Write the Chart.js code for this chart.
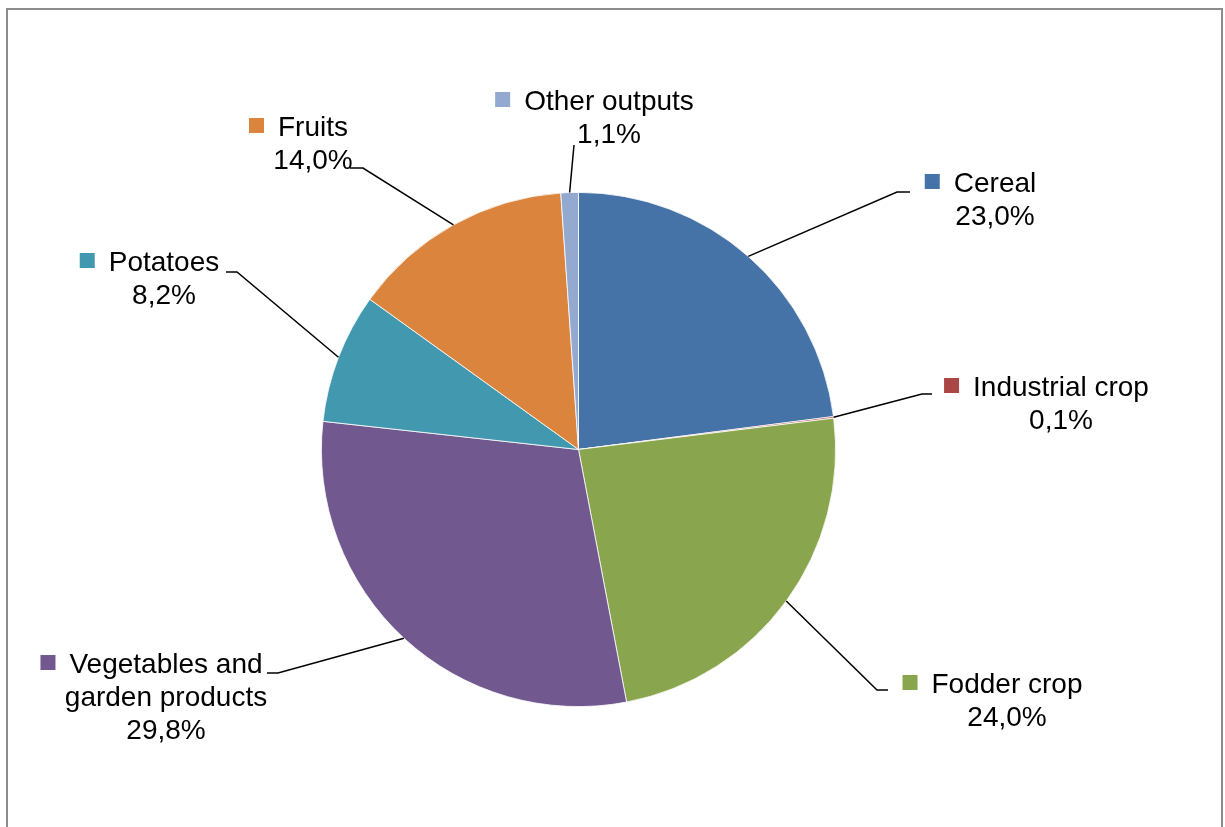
<!DOCTYPE html>
<html>
<head>
<meta charset="utf-8">
<script src="https://cdn.jsdelivr.net/npm/chart.js@4"></script>
<style>
  html, body { margin: 0; padding: 0; background: #fff; }
  canvas { display: block; }
</style>
</head>
<body>
<canvas id="c" width="1225" height="827"></canvas>
<script>
const categories = ["Cereal", "Industrial crop", "Fodder crop", "Vegetables and garden products", "Potatoes", "Fruits", "Other outputs"];
const shares = [23.0, 0.1, 24.0, 29.8, 8.2, 14.0, 1.1];
const colors = ["#4572A7", "#AA4643", "#89A54E", "#71588F", "#4198AF", "#DB843D", "#93A9CF"];

// label layout (text center x, first line middle y, leader elbow, horizontal end)
const labelLayout = [
  { cx: 995, y: 184, elbow: [897, 192], end: 910 },
  { cx: 1061, y: 388, elbow: [922, 394], end: 932 },
  { cx: 1007, y: 685, elbow: [877, 690], end: 888 },
  { cx: 166, y: 665, elbow: [278, 673], end: 267 },
  { cx: 164, y: 263, elbow: [237, 272], end: 226 },
  { cx: 313, y: 128, elbow: [363, 168], end: 350 },
  { cx: 609, y: 102, elbow: [574, 145], end: 574 }
];

const fmt = v => v.toFixed(1).replace('.', ',') + '%';

const framePlugin = {
  id: 'frame',
  beforeDraw(chart) {
    const ctx = chart.ctx;
    ctx.save();
    ctx.fillStyle = '#fff';
    ctx.fillRect(0, 0, chart.width, chart.height);
    ctx.strokeStyle = '#8c8c8c';
    ctx.lineWidth = 2;
    ctx.strokeRect(7, 9, 1215, 830);
    ctx.restore();
  }
};

const labelPlugin = {
  id: 'pieLabels',
  afterDatasetsDraw(chart) {
    const ctx = chart.ctx;
    const meta = chart.getDatasetMeta(0);
    const font = '28px "Liberation Sans", Arial, sans-serif';
    const lineH = 33;
    ctx.save();
    ctx.font = font;
    meta.data.forEach((arc, i) => {
      const L = labelLayout[i];
      const p = arc.getProps(['x', 'y', 'startAngle', 'endAngle', 'outerRadius'], true);
      const mid = (p.startAngle + p.endAngle) / 2;
      const sx = p.x + Math.cos(mid) * p.outerRadius;
      const sy = p.y + Math.sin(mid) * p.outerRadius;
      // leader line
      ctx.strokeStyle = '#000';
      ctx.lineWidth = 1.5;
      ctx.beginPath();
      ctx.moveTo(sx, sy);
      ctx.lineTo(L.elbow[0], L.elbow[1]);
      ctx.lineTo(L.end, L.elbow[1]);
      ctx.stroke();
      // wrap category
      const words = categories[i].split(' ');
      const lines = [];
      let cur = '';
      words.forEach(w => {
        const t = cur ? cur + ' ' + w : w;
        if (ctx.measureText(t).width > 230 && cur) { lines.push(cur); cur = w; }
        else cur = t;
      });
      lines.push(cur);
      lines.push(fmt(shares[i]));
      ctx.fillStyle = '#000';
      ctx.textAlign = 'center';
      ctx.textBaseline = 'middle';
      lines.forEach((ln, k) => ctx.fillText(ln, L.cx, L.y + k * lineH));
      // legend key square
      const w0 = ctx.measureText(lines[0]).width;
      const left = L.cx - w0 / 2;
      ctx.fillStyle = colors[i];
      ctx.fillRect(left - 29, L.y - 10, 15, 15);
    });
    ctx.restore();
  }
};

new Chart(document.getElementById('c'), {
  type: 'pie',
  data: {
    labels: categories,
    datasets: [{
      data: shares,
      backgroundColor: colors,
      borderColor: '#ffffff',
      borderWidth: 0.8
    }]
  },
  options: {
    responsive: false,
    animation: false,
    layout: { padding: { top: 192, bottom: 120, left: 321, right: 389 } },
    plugins: { legend: { display: false }, tooltip: { enabled: false } }
  },
  plugins: [framePlugin, labelPlugin]
});
</script>
</body>
</html>
